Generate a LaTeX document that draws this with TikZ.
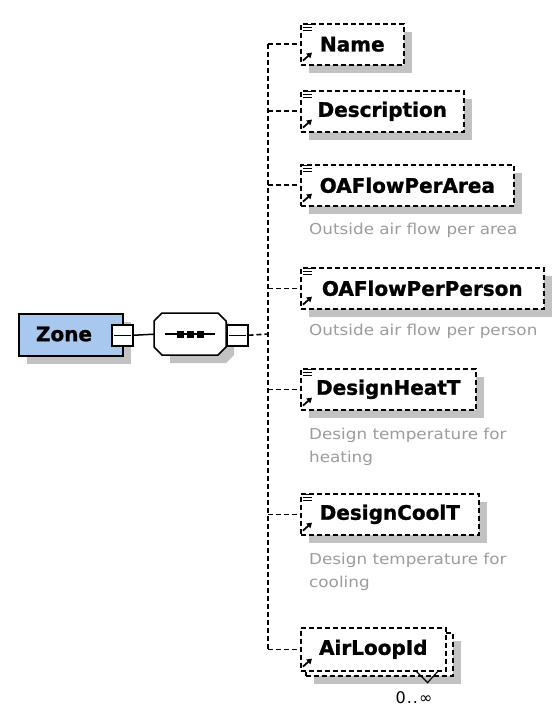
\documentclass[tikz,border=0pt]{standalone}
\usepackage{fontspec}
\setmainfont{DejaVu Sans}
\newfontfamily\elemfont{DejaVu Sans}[FakeBold=1.2]
\newfontfamily\notefont{DejaVu Sans}[FakeStretch=1.12]
\usetikzlibrary{shadows,calc,arrows.meta}
\definecolor{zoneblue}{HTML}{A8C8F0}
\definecolor{shadowgray}{HTML}{C2C2C2}
\definecolor{notegray}{HTML}{9C9C9C}
\tikzset{
  shade box/.style={drop shadow={shadow xshift=8pt, shadow yshift=-8pt, fill=shadowgray, opacity=1}},
  dashline/.style={dash pattern=on 5pt off 3pt, line width=1.6pt},
  elemtext/.style={font=\elemfont\bfseries\fontsize{20}{24}\selectfont, text=black},
  elem/.style={draw, dashline, fill=white, anchor=north west, inner sep=0pt,
    minimum height=41pt, elemtext},
  note/.style={anchor=base west, inner sep=0pt, text=notegray,
    font=\notefont\fontsize{15}{23}\selectfont, align=left},
  solidbox/.style={draw, line width=1.5pt, anchor=north west, inner sep=0pt},
  conn/.style={dashline},
  icon/.style={line width=1.2pt},
}
% small decorations on an element box
\newcommand\elemlines[1]{%
  \foreach \dy in {1.5,4.5,7.5}{\draw[icon] ($(#1.north west)+(3,\dy)$) -- ++(9,0);}}
\newcommand\elemarrow[1]{%
  \draw[line width=1.8pt, -{Triangle[length=5pt,width=6pt]}] ($(#1.south west)+(3,-5)$) -- ++(9,-8);}
\begin{document}
\begin{tikzpicture}[x=1pt,y=-1pt]
\useasboundingbox (0,0) rectangle (554,719);

% the complex element Zone
\node[solidbox, fill=zoneblue, minimum width=104pt, minimum height=42pt, shade box] (zone) at (18,313) {};
\node[elemtext, inner sep=0pt] (zonetxt) at (64,334) {Zone};
\node[solidbox, fill=white, minimum width=21pt, minimum height=21pt] (zmin) at (111,324) {};
\draw[line width=1.3pt] ($(zmin.west)+(3,0)$) -- ($(zmin.east)+(-3,0)$);

% sequence compositor (octagon)
\node[inner sep=0pt, minimum width=72pt, minimum height=42pt, anchor=north west] (seq) at (154,313) {};
\fill[shadowgray] (170,321) -- (226,321) -- (234,329) -- (234,355) -- (226,363) -- (170,363) -- cycle;
\draw[line width=1.5pt, fill=white] (162,313) -- (218,313) -- (226,321) -- (226,347) -- (218,355)
  -- (162,355) -- (154,347) -- (154,321) -- cycle;
\draw[line width=1.5pt] (165,334) -- (215,334);
\foreach \sx in {180,190,200}{\fill ($(\sx,334)+(-3.5,-3.5)$) rectangle ++(7,7);}
\node[solidbox, fill=white, minimum width=21pt, minimum height=21pt] (smin) at (226,324) {};
\draw[line width=1.3pt] ($(smin.west)+(3,0)$) -- ($(smin.east)+(-3,0)$);

\draw[line width=1.5pt] (zmin.east) -- (seq.west);

% child elements
\node[elem, minimum width=103pt, shade box] (name) at (300,23) {Name};
\node[elem, minimum width=163pt, shade box] (desc) at (300,90) {Description};
\node[elem, minimum width=213pt, shade box] (oaarea) at (300,164) {OAFlowPerArea};
\node[note] (oaareanote) at (309,234) {Outside air flow per area};
\node[elem, minimum width=243pt, shade box] (oaperson) at (300,267) {OAFlowPerPerson};
\node[note] (oapersonnote) at (309,335) {Outside air flow per person};
\node[elem, minimum width=175pt, shade box] (heat) at (300,368) {DesignHeatT};
\node[note] (heatnote) at (309,462) {Design temperature for\\heating};
\node[elem, minimum width=178pt, shade box] (cool) at (300,493) {DesignCoolT};
\node[note] (coolnote) at (309,587) {Design temperature for\\cooling};

\node[draw, dashline, fill=white, anchor=north west, minimum width=147pt, minimum height=43pt,
      inner sep=0pt, shade box] (airback) at (305,632) {};
\node[elem, minimum width=145pt, minimum height=43pt] (air) at (300,627) {AirLoopId};
\draw[line width=1.2pt] ($(air.south east)+(-30,0)$) -- ++(11,11) -- ++(10,-11);
\node[font=\fontsize{16}{18}\selectfont, inner sep=0pt, anchor=base] (mult) at (414,703) {0\kern1pt.\kern1pt.\kern1pt∞};

\foreach \n in {name,desc,oaarea,oaperson,heat,cool}{\elemlines{\n}}
\foreach \n in {name,desc,oaarea,oaperson,heat,cool,air}{\elemarrow{\n}}

% connectors from the sequence to its children
\coordinate (trunk) at (268,334);
\draw[conn] (smin.east) -- (trunk);
\draw[conn] (trunk |- name.west) -- (trunk |- air.west);
\foreach \n in {name,desc,oaarea,oaperson,heat,cool,air}{\draw[conn] (trunk |- \n.west) -- (\n.west);}
\end{tikzpicture}
\end{document}
